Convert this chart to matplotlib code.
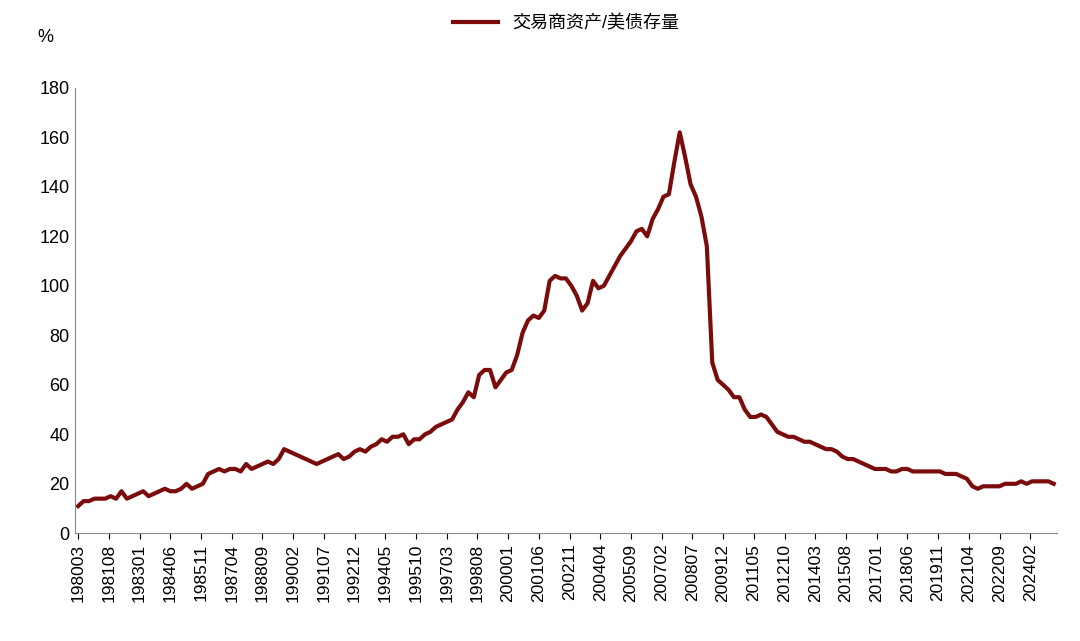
import matplotlib
matplotlib.use("Agg")
import matplotlib.pyplot as plt
from matplotlib import font_manager
import numpy as np

names = {f.name for f in font_manager.fontManager.ttflist}
cjk = [n for n in ['Noto Sans CJK SC', 'Noto Sans CJK JP', 'Noto Sans CJK TC', 'Noto Sans CJK KR', 'Noto Sans SC'] if n in names]
if not cjk:
    cjk = [f.name for f in font_manager.fontManager.ttflist if 'CJK' in f.name or 'CJK' in f.fname][:1]
plt.rcParams['font.family'] = ['Liberation Sans'] + cjk + ['DejaVu Sans']

start_year, start_month = 1980, 3
series_name = "交易商资产/美债存量"
values = [
 11,13,13,14, 14,14,15,14, 17,14,15,16, 17,15,16,17, 18,17,17,18,
 20,18,19,20, 24,25,26,25, 26,26,25,28, 26,27,28,29, 28,30,34,33,
 32,31,30,29, 28,29,30,31, 32,30,31,33, 34,33,35,36, 38,37,39,39,
 40,36,38,38, 40,41,43,44, 45,46,50,53, 57,55,64,66, 66,59,62,65,
 66,72,81,86, 88,87,90,102, 104,103,103,100, 96,90,93,102, 99,100,104,108,
 112,115,118,122, 123,120,127,131, 136,137,150,162, 152,141,136,128,
 116,69,62,60, 58,55,55,50, 47,47,48,47, 44,41,40,39, 39,38,37,37,
 36,35,34,34, 33,31,30,30, 29,28,27,26, 26,26,25,25, 26,26,25,25,
 25,25,25,25, 24,24,24,23, 22,19,18,19, 19,19,19,20, 20,20,21,20,
 21,21,21,21, 20]
tick_step = 17

months = np.arange(len(values)) * 3
fig = plt.figure(figsize=(10.8, 6.41), dpi=100)
ax = fig.add_axes([0.069, 0.168, 0.91, 0.695])
ax.plot(months, values, color="#7B0C0C", lw=3)
ax.set_ylim(0, 180)
ax.set_yticks(range(0, 181, 20))
ax.set_xlim(-2, months[-1] + 2)
tpos = np.arange(0, months[-1] + 1, tick_step)
labels = []
for t in tpos:
    m = start_month - 1 + t
    labels.append(f"{start_year + m // 12}{m % 12 + 1:02d}")
ax.set_xticks(tpos)
ax.set_xticklabels(labels, rotation=90, fontsize=12.5)
ax.tick_params(axis='y', labelsize=13, length=0)
ax.tick_params(axis='x', length=4)
for s in ['top', 'right']:
    ax.spines[s].set_visible(False)
ax.spines['left'].set_color('#888888')
ax.spines['bottom'].set_color('#888888')
fig.text(0.035, 0.935, "%", fontsize=13)
ax.legend([series_name], loc='upper center', bbox_to_anchor=(0.5, 1.2), frameon=False, fontsize=13, handlelength=2.5)
fig.savefig("out.png", dpi=100)
